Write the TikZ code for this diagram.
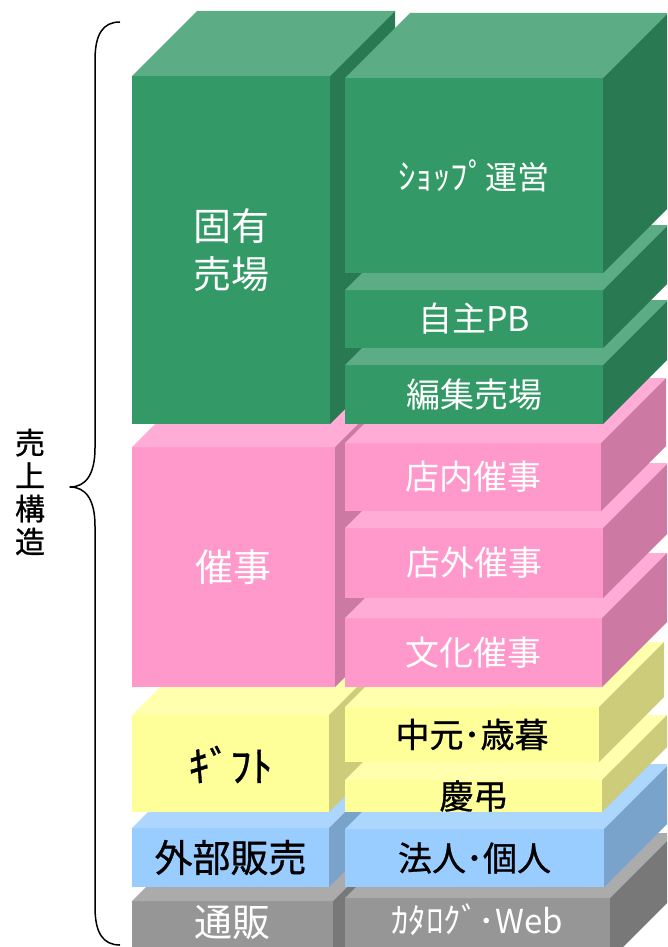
\documentclass[tikz,border=0pt]{standalone}
\usepackage{fontspec}
\newfontfamily\jp{Noto Sans CJK JP}
\newfontfamily\jpb{Noto Sans CJK JP}[FakeBold=0.8]
\definecolor{cG}{HTML}{339966}
\definecolor{cP}{HTML}{FF99CC}
\definecolor{cY}{HTML}{FFFF99}
\definecolor{cB}{HTML}{99CCFF}
\definecolor{cK}{HTML}{969696}
\tikzset{
  face/.style={draw=none, inner sep=0pt, outer sep=0pt, rectangle},
  lblw/.style={text=white, inner sep=0pt, align=center},
  lblk/.style={text=black, inner sep=0pt, align=center},
  brace/.style={draw=black, line width=1.5pt, line join=round}
}
% #1 name, #2 x1, #3 y1, #4 x2, #5 y2, #6 colour
\newcommand{\cubebox}[6]{%
  \node[face, fill=#6, minimum width={(#4-#2)*1pt}, minimum height={(#5-#3)*1pt}] (#1) at ({(#2+#4)/2},{(#3+#5)/2}) {};
  \fill[#6!80!white] (#1.north west) -- ++(65,-65) -- ([shift={(65,-65)}]#1.north east) -- (#1.north east) -- cycle;
  \fill[#6!80!black] (#1.north east) -- ++(65,-65) -- ([shift={(65,-65)}]#1.south east) -- (#1.south east) -- cycle;
}
\newcommand{\fs}[2]{\jp\fontsize{#1}{#2}\selectfont}
\newcommand{\fsb}[2]{\jpb\fontsize{#1}{#2}\selectfont}
\begin{document}
\begin{tikzpicture}[x=1pt, y=-1pt]
\useasboundingbox (0,0) rectangle (667,947);
\clip (0,0) rectangle (667,947);
% left column, bottom to top
\cubebox{tsuhan}{132}{901}{333}{960}{cK}
\cubebox{gaibu}{132}{828}{329}{887}{cB}
\cubebox{gift}{132}{715}{329}{812}{cY}
\cubebox{saiji}{132}{447}{335}{687}{cP}
\cubebox{kotei}{132}{76}{330}{424}{cG}
% right column, bottom to top
\cubebox{catalog}{345}{898}{610}{960}{cK}
\cubebox{hojin}{345}{829}{604}{887}{cB}
\cubebox{keicho}{345}{780}{602}{812}{cY}
\cubebox{chugen}{345}{707}{599}{762}{cY}
\cubebox{bunka}{345}{618}{602}{687}{cP}
\cubebox{tengai}{345}{528}{603}{598}{cP}
\cubebox{tennai}{345}{443}{601}{511}{cP}
\cubebox{henshu}{345}{365}{603}{424}{cG}
\cubebox{jishu}{345}{290}{603}{348}{cG}
\cubebox{shop}{345}{78}{603}{273}{cG}
% labels
\node[lblw, font=\fs{38}{48}] (t-kotei) at (kotei.center) {固有\\売場};
\node[lblw, font=\fs{38}{48}] (t-saiji) at (saiji.center) {催事};
\node[lblk, font=\fsb{42}{44}] (t-gift) at ([yshift=-1pt]gift.center) {ｷﾞﾌﾄ};
\node[lblk, font=\fsb{38}{44}] (t-gaibu) at (gaibu.center) {外部販売};
\node[lblw, font=\fs{38}{44}] (t-tsuhan) at (232,923) {通販};
\node[lblw, font=\fs{32}{40}] (t-shop) at (shop.center) {{\fontsize{35}{40}\selectfont ｼｮｯﾌﾟ}運営};
\node[lblw, font=\fs{34}{40}] (t-jishu) at (jishu.center) {自主PB};
\node[lblw, font=\fs{34}{40}] (t-henshu) at (henshu.center) {編集売場};
\node[lblw, font=\fs{34}{40}] (t-tennai) at (tennai.center) {店内催事};
\node[lblw, font=\fs{34}{40}] (t-tengai) at (tengai.center) {店外催事};
\node[lblw, font=\fs{34}{40}] (t-bunka) at (bunka.center) {文化催事};
\node[lblk, font=\fsb{34}{40}] (t-chugen) at (chugen.center) {中元･歳暮};
\node[lblk, font=\fsb{34}{40}] (t-keicho) at (keicho.center) {慶弔};
\node[lblk, font=\fsb{34}{40}] (t-hojin) at (hojin.center) {法人･個人};
\node[lblw, font=\fs{33}{40}] (t-catalog) at (477,920) {{\fontsize{35}{40}\selectfont ｶﾀﾛｸﾞ}･Web};
% brace and title
\coordinate (b-top) at (120,22);
\coordinate (b-tip) at (70,487);
\coordinate (b-bot) at (120,945);
\draw[brace] (b-top) .. controls (103,22) and (95,34) .. (95,60) -- (95,448)
  .. controls (95,474) and (86,487) .. (b-tip)
  .. controls (86,487) and (95,500) .. (95,526) -- (95,907)
  .. controls (95,933) and (103,945) .. (b-bot);
\node[lblk, font=\fsb{30}{33}] (title) at (30,492) {売\\上\\構\\造};
\end{tikzpicture}
\end{document}
